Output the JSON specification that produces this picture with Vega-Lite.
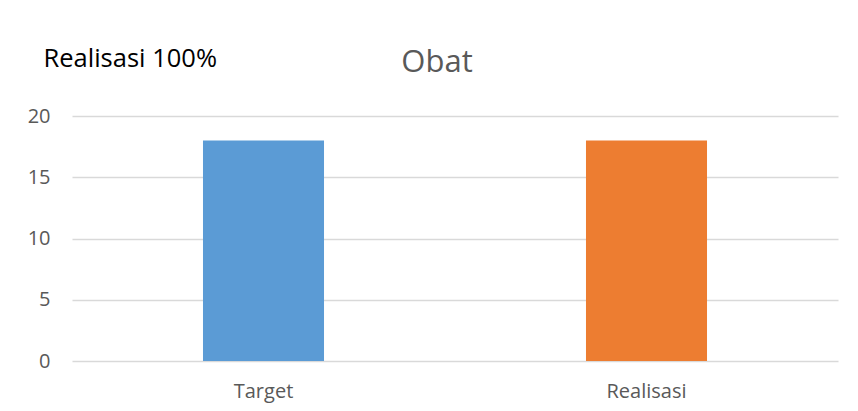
{
  "$schema": "https://vega.github.io/schema/vega-lite/v6.json",
  "autosize": "none",
  "width": 766,
  "height": 245,
  "padding": {"left": 72, "top": 116, "right": 20, "bottom": 50},
  "background": "white",
  "title": {
    "text": "Obat",
    "font": "Open Sans",
    "fontSize": 31,
    "fontWeight": "normal",
    "color": "#595959",
    "anchor": "middle",
    "frame": "group",
    "dx": -18,
    "offset": -33
  },
  "data": {
    "values": [
      {"kategori": "Target", "nilai": 18},
      {"kategori": "Realisasi", "nilai": 18}
    ]
  },
  "mark": {"type": "bar"},
  "encoding": {
    "x": {
      "field": "kategori",
      "type": "nominal",
      "sort": ["Target", "Realisasi"],
      "scale": {"paddingInner": 0.684, "paddingOuter": 0.342},
      "axis": {
        "title": null,
        "labelAngle": 0,
        "labelFont": "Open Sans",
        "labelFontSize": 20,
        "labelColor": "#595959",
        "labelPadding": 20,
        "ticks": false,
        "domain": false
      }
    },
    "y": {
      "field": "nilai",
      "type": "quantitative",
      "scale": {"domain": [0, 20]},
      "axis": {
        "values": [0, 5, 10, 15, 20],
        "title": "Realisasi 100%",
        "titleAngle": 0,
        "titleAlign": "left",
        "titleBaseline": "alphabetic",
        "titleX": -29,
        "titleY": -50,
        "titleFont": "Open Sans",
        "titleFontSize": 25.5,
        "titleFontWeight": "normal",
        "titleColor": "#000000",
        "labelFont": "Open Sans",
        "labelFontSize": 20,
        "labelColor": "#595959",
        "labelPadding": 22,
        "ticks": false,
        "domain": false,
        "grid": true,
        "gridColor": "#D9D9D9",
        "gridWidth": 1.3
      }
    },
    "color": {
      "field": "kategori",
      "type": "nominal",
      "scale": {"domain": ["Target", "Realisasi"], "range": ["#5B9BD5", "#ED7D31"]},
      "legend": null
    }
  },
  "config": {"view": {"stroke": null}}
}
